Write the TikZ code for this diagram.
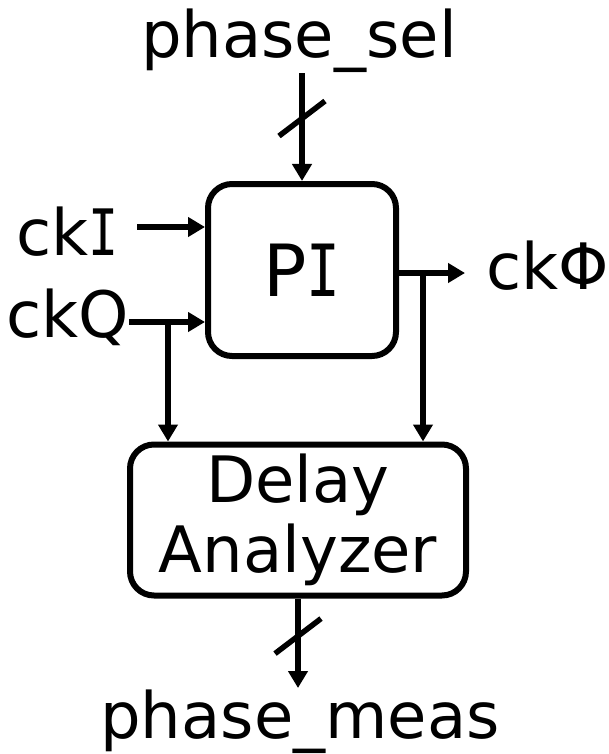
\documentclass[tikz,border=0pt]{standalone}
\usepackage{fontspec}
\setmainfont{DejaVu Sans}
\newfontfamily\monoI{DejaVu Sans Mono}
\newcommand{\serifI}{\scalebox{0.78}[1]{\monoI I}}
\usetikzlibrary{arrows.meta,calc}
\begin{document}
\begin{tikzpicture}[x=1pt,y=-1pt,
  lbl/.style={font=\fontsize{64}{70}\selectfont, inner sep=0pt},
  blk/.style={draw, line width=6pt, rounded corners=24pt, inner sep=0pt,
    font=\fontsize{64}{70}\selectfont, align=center},
  arr/.style={line width=5.5pt, -{Triangle[length=17pt,width=19pt]}},
  bus/.style={line width=5.5pt}]
\useasboundingbox (0,0) rectangle (609,754);
% blocks
\node[blk, minimum width=188pt, minimum height=172pt, font=\fontsize{72}{80}\selectfont] (pi) at (302,270) {P\serifI};
\node[blk, minimum width=336pt, minimum height=151pt] (da) at (298,520) {\raisebox{-3pt}{Delay}\\\raisebox{-3pt}{Analyzer}};
% labels
\node[lbl, anchor=base] (sel) at (299,58) {phase\_sel};
\node[lbl, anchor=base east] (ckI) at (119,255) {ck\serifI};
\node[lbl, anchor=base east] (ckQ) at (129,337) {ckQ};
\node[lbl, anchor=base west] (ckP) at (486,289) {ckΦ};
\node[lbl, anchor=base] (meas) at (300,738) {phase\_meas};
% phase_sel bus
\draw[arr] (sel.south -| pi.north) -- (pi.north);
\draw[bus] ($(sel.south -| pi.north)!0.42!(pi.north)$) +(-23,17.5) -- +(23,-17.5);
% ckI
\coordinate (iI) at (137,227);
\draw[arr] (iI) -- (iI -| pi.west);
% ckQ
\coordinate (iQ) at (129,322);
\draw[arr] (iQ) -- (iQ -| pi.west);
\coordinate (bQ) at (168,322);
\draw[arr] (bQ) -- (bQ |- da.north);
% ckPhi
\coordinate (oP) at (465,273);
\draw[arr] (oP -| pi.east) -- (oP);
\coordinate (bP) at (423,273);
\draw[arr] (bP) -- (bP |- da.north);
% phase_meas bus
\coordinate (mEnd) at (298,688);
\draw[arr] (da.south) -- (da.south |- mEnd);
\draw[bus] ($(da.south)!0.42!(da.south |- mEnd)$) +(-23,17.5) -- +(23,-17.5);
\end{tikzpicture}
\end{document}
